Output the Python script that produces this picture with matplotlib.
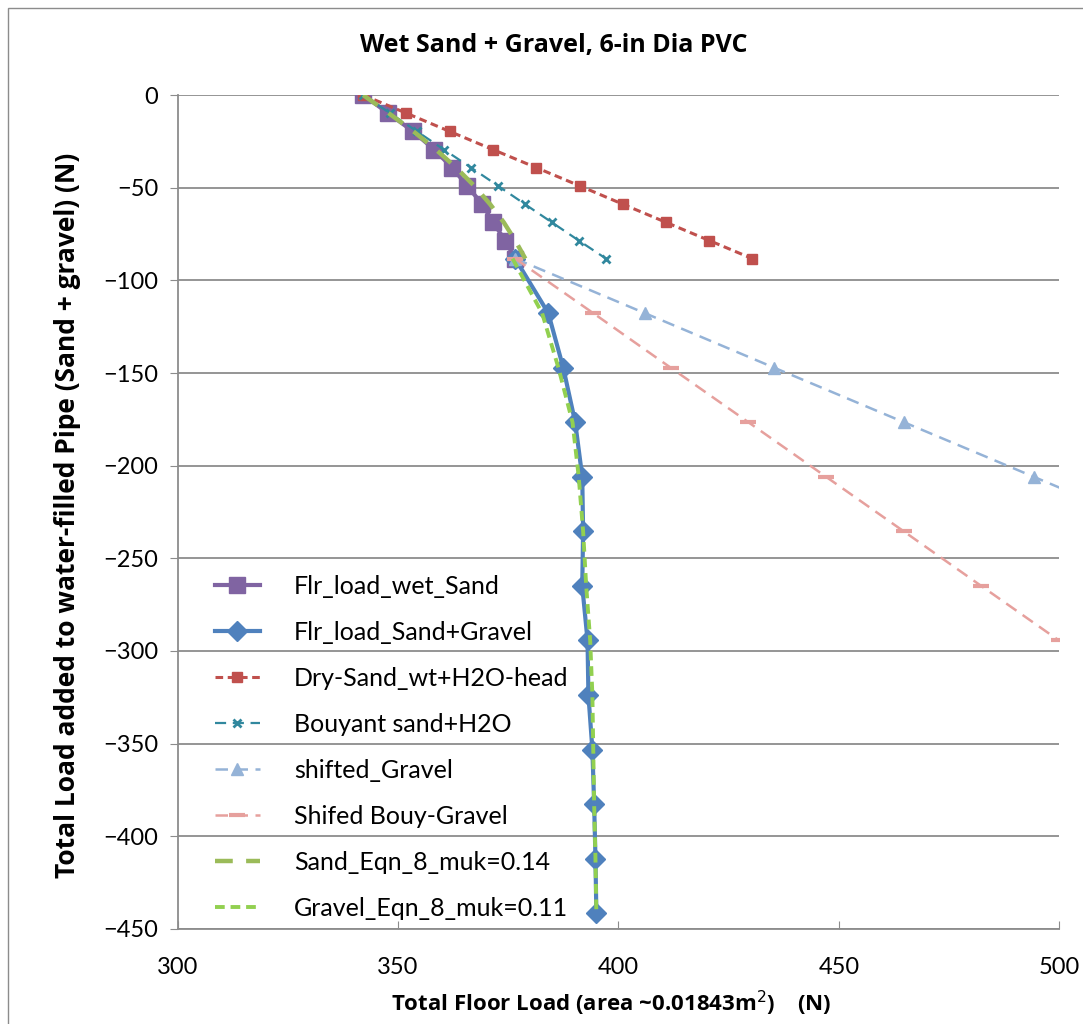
import numpy as np
import matplotlib
matplotlib.use("Agg")
import matplotlib.pyplot as plt
from matplotlib.patches import Rectangle

plt.rcParams['font.family'] = ['Lato', 'DejaVu Sans']
BOLD = ['Open Sans', 'DejaVu Sans']

# --- data ---
# load steps (N) on the y axis
y_sand = [0, -9.8, -19.6, -29.4, -39.2, -49.0, -58.9, -68.7, -78.5, -88.3]
y_grav = [-88.3, -117.7, -147.2, -176.6, -206.0, -235.4, -264.9, -294.3,
          -323.7, -353.2, -382.6, -412.0, -441.5]

flr_wet_sand = [342.1, 347.8, 353.4, 358.2, 362.3, 365.7, 369.1, 371.6, 374.3, 376.6]
flr_sand_gravel = [376.6, 384.1, 387.5, 390.2, 391.8, 392.0, 391.8, 393.0,
                   393.2, 394.1, 394.5, 394.8, 395.0]
dry_sand_head = [342.1, 351.9, 361.7, 371.5, 381.4, 391.2, 401.0, 410.8, 420.6, 430.4]
bouyant_sand = [342.1, 348.2, 354.3, 360.4, 366.6, 372.7, 378.8, 384.9, 391.0, 397.2]

y_shift = [-88.3, -117.7, -147.2, -176.6, -206.0, -235.4]
shifted_gravel = [376.6, 406.0, 435.4, 464.8, 494.2, 523.6]
y_shift_b = [-88.3, -117.7, -147.2, -176.6, -206.0, -235.4, -264.9, -294.3, -323.7]
shifted_bouy = [376.6, 394.3, 411.9, 429.5, 447.1, 464.7, 482.3, 499.9, 517.5]

sand_eqn = [342.1, 347.9, 353.5, 358.6, 363.2, 367.3, 370.9, 374.0, 376.6, 378.9]
gravel_eqn = [376.0, 382.7, 386.4, 389.6, 391.0, 392.0, 392.7, 393.6,
              394.1, 394.3, 394.5, 394.8, 395.0]

fig = plt.figure(figsize=(10.83, 10.24), dpi=100)
ax = fig.add_axes([0.1639, 0.0928, 0.8142, 0.8144])

ax.plot(flr_wet_sand, y_sand, color='#8064A2', lw=3, marker='s', ms=11,
        label='Flr_load_wet_Sand')
ax.plot(flr_sand_gravel, y_grav, color='#4F81BD', lw=3, marker='D', ms=10.5,
        label='Flr_load_Sand+Gravel')
ax.plot(dry_sand_head, y_sand, color='#C0504D', lw=2.2, ls=(0, (2.5, 1.5)),
        marker='s', ms=6.5, label='Dry-Sand_wt+H2O-head')
ax.plot(bouyant_sand, y_sand, color='#31889E', lw=1.6, ls=(0, (5, 3)),
        marker='x', ms=6, mew=2, label='Bouyant sand+H2O')
ax.plot(shifted_gravel, y_shift, color='#95B3D7', lw=1.8, ls=(0, (5, 3)),
        marker='^', ms=9, label='shifted_Gravel')
ax.plot(shifted_bouy, y_shift_b, color='#E6A09D', lw=1.8, ls=(0, (5, 3)),
        marker='_', ms=12, mew=3, label='Shifed Bouy-Gravel')
ax.plot(sand_eqn, y_sand, color='#9BBB59', lw=3.2, ls=(0, (4, 3)),
        label='Sand_Eqn_8_muk=0.14')
ax.plot(gravel_eqn, y_grav, color='#92D050', lw=2.8, ls=(0, (2.5, 1.5)),
        label='Gravel_Eqn_8_muk=0.11')

ax.set_xlim(300, 500)
ax.set_ylim(-450, 0)
ax.set_xticks([300, 350, 400, 450, 500])
ax.set_yticks(np.arange(-450, 1, 50))
ax.yaxis.grid(True, color='#8C8C8C', lw=1.3)
ax.set_axisbelow(True)
for s in ['top', 'right']:
    ax.spines[s].set_visible(False)
for s in ['left', 'bottom']:
    ax.spines[s].set_color('#8C8C8C')
    ax.spines[s].set_linewidth(1.3)
ax.tick_params(axis='x', direction='in', length=6, color='#8C8C8C',
               labelsize=17, pad=20)
ax.tick_params(axis='y', direction='out', length=6, color='#8C8C8C',
               labelsize=17, pad=8)

# axis titles and chart title placed in figure coordinates
fig.text(611 / 1083, 1 - 1003 / 1024,
         'Total Floor Load (area ~0.01843m$^2$)    (N)', fontsize=16,
         family=BOLD, fontweight='bold', ha='center', va='center')
fig.text(68 / 1083, 1 - 515 / 1024,
         'Total Load added to water-filled Pipe (Sand + gravel) (N)',
         fontsize=19, family=BOLD, fontweight='bold', rotation=90,
         ha='center', va='center')
fig.text(0.511, 0.956, 'Wet Sand + Gravel, 6-in Dia PVC', fontsize=18,
         family=BOLD, fontweight='bold', ha='center', va='center')

ax.legend(loc='upper left', bbox_to_anchor=(0.017, 0.452), frameon=False,
          fontsize=18, handlelength=1.8, handletextpad=1.36, labelspacing=0.92)

fig.patches.append(Rectangle((8 / 1083, -0.1), 1.2, 1 - 8 / 1024 + 0.1,
                             transform=fig.transFigure, fill=False,
                             edgecolor='#8C8C8C', lw=1))

fig.savefig('out.png', dpi=100)
